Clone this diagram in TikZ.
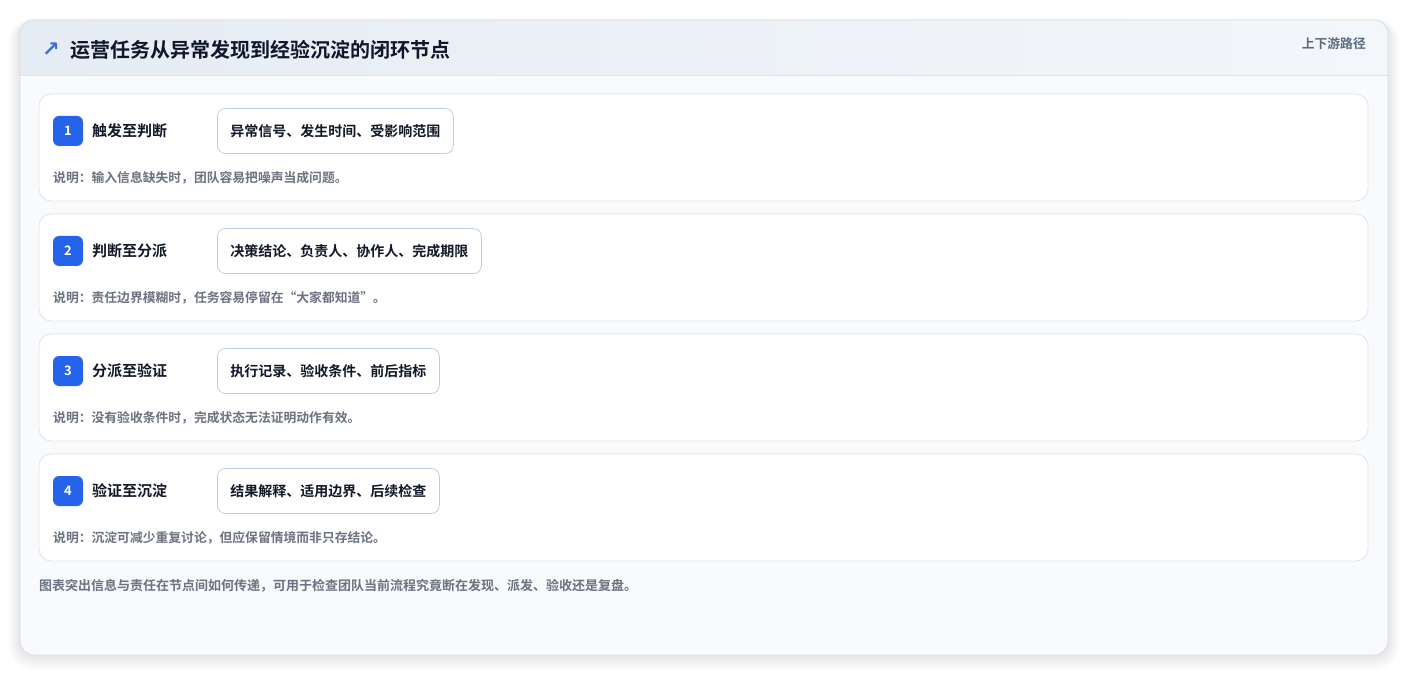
\documentclass[tikz,border=0pt]{standalone}
\usepackage{fontspec}
\setmainfont{Noto Sans CJK SC}[BoldFont={Noto Sans CJK SC Bold}]
\newfontfamily\symfont{DejaVu Sans}
\definecolor{badgeblue}{HTML}{2563EB}
\definecolor{titlec}{HTML}{0F172A}
\definecolor{labelc}{HTML}{111827}
\definecolor{notec}{HTML}{6B7280}
\definecolor{subc}{HTML}{5B6B80}
\definecolor{rowborder}{HTML}{DCE4EF}
\definecolor{chipborder}{HTML}{BCCFE8}
\definecolor{cardborder}{HTML}{D8DEE6}
\definecolor{cardbody}{HTML}{F8FAFC}
\definecolor{hdrL}{HTML}{E6ECF4}
\definecolor{hdrR}{HTML}{F3F6FA}
\definecolor{iconc}{HTML}{3B6FD8}
\pgfdeclarelayer{shadowlayer}
\pgfsetlayers{shadowlayer,main}
\tikzset{
  rowbox/.style={draw=rowborder, fill=white, rounded corners=12pt, line width=0.8pt},
  badge/.style={fill=badgeblue, text=white, rounded corners=6pt, minimum width=30pt, minimum height=30pt, inner sep=0pt, font=\bfseries\fontsize{13}{15}\selectfont},
  lbl/.style={anchor=west, text=labelc, inner sep=0pt, font=\bfseries\fontsize{15}{17}\selectfont},
  chip/.style={anchor=west, draw=chipborder, fill=white, rounded corners=8pt, line width=0.8pt, minimum height=45pt, inner xsep=13pt, text=labelc, font=\bfseries\fontsize{14}{16}\selectfont},
  note/.style={anchor=west, text=notec, inner sep=0pt, font=\bfseries\fontsize{12.8}{15}\selectfont},
}
\begin{document}
\begin{tikzpicture}[x=1pt,y=-1pt]
\useasboundingbox (0,0) rectangle (1408,676);
% card shadow
\foreach \i in {1,...,12}{
  \fill[black, opacity=0.007, rounded corners=14pt+\i pt] (20-\i,20-\i*0.3+2) rectangle (1388+\i,655+\i*1.3);
}
\fill[cardbody, rounded corners=14pt] (20,20) rectangle (1388,655);
\begin{scope}
  \clip[rounded corners=14pt] (20,20) rectangle (1388,655);
  \shade[left color=hdrL, right color=hdrR] (20,20) rectangle (1388,75);
  \draw[rowborder, line width=0.8pt] (20,75) -- (1388,75);
\end{scope}
\draw[cardborder, line width=0.8pt, rounded corners=14pt] (20,20) rectangle (1388,655);
% header
\node[anchor=center, text=iconc, inner sep=0pt, font=\symfont\bfseries\fontsize{21}{22}\selectfont] (icon) at (51,50) {↗};
\node[anchor=west, text=titlec, inner sep=0pt, font=\bfseries\fontsize{20}{22}\selectfont] (title) at (70,50) {运营任务从异常发现到经验沉淀的闭环节点};
\node[anchor=east, text=subc, inner sep=0pt, font=\bfseries\fontsize{12.8}{15}\selectfont] (sub) at (1366,44) {上下游路径};
% rows
\foreach \n/\y/\lab/\chiptext/\notetext in {
  1/94/触发至判断/异常信号、发生时间、受影响范围/说明：输入信息缺失时，团队容易把噪声当成问题。,
  2/214/判断至分派/决策结论、负责人、协作人、完成期限/说明：责任边界模糊时，任务容易停留在“大家都知道”。,
  3/334/分派至验证/执行记录、验收条件、前后指标/说明：没有验收条件时，完成状态无法证明动作有效。,
  4/454/验证至沉淀/结果解释、适用边界、后续检查/说明：沉淀可减少重复讨论，但应保留情境而非只存结论。}{
  \draw[rowbox] (39,\y) rectangle (1368,\y+107);
  \node[badge] (b\n) at (68,\y+37) {\n};
  \node[lbl] (l\n) at (92,\y+37) {\lab};
  \node[chip] (c\n) at (217,\y+37) {\chiptext};
  \begin{pgfonlayer}{shadowlayer}
  \foreach \k in {1,...,6}{
    \fill[black, opacity=0.012, rounded corners=8pt+\k pt]
      ([xshift=-\k pt, yshift=\k pt*0.3-2pt]c\n.north west) rectangle ([xshift=\k pt, yshift=-\k pt-3pt]c\n.south east);
  }
  \end{pgfonlayer}
  \node[note] (n\n) at (53,\y+84) {\notetext};
}
\node[anchor=west, text=notec, inner sep=0pt, font=\bfseries\fontsize{13}{15}\selectfont] (footer) at (39,586) {图表突出信息与责任在节点间如何传递，可用于检查团队当前流程究竟断在发现、派发、验收还是复盘。};
\end{tikzpicture}
\end{document}
